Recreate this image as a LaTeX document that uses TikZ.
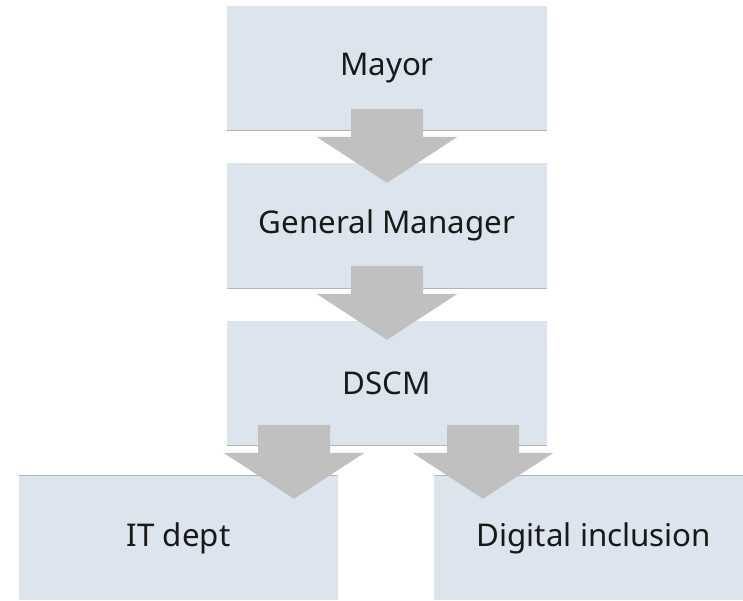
\documentclass[tikz,border=0pt]{standalone}
\usepackage{fontspec}
\setmainfont{Noto Sans}
\usetikzlibrary{calc}
\definecolor{boxfill}{HTML}{DCE5EE}
\definecolor{arrowgray}{HTML}{C0C0C0}
\definecolor{edgegray}{HTML}{B4B4B4}
\tikzset{
  orgbox/.style={rectangle, fill=boxfill, draw=none, minimum width=320pt, inner sep=0pt,
    font=\fontsize{31.3}{36}\selectfont, text=black!90},
  blockarrow/.pic={\fill[arrowgray] (-36,-74) -- (36,-74) -- (36,-46) -- (70.5,-46) -- (0,0) -- (-70.5,-46) -- (-36,-46) -- cycle;}
}
\begin{document}
\begin{tikzpicture}[x=1pt,y=-1pt]
\useasboundingbox (0,0) rectangle (743,600);
\begin{scope}
\clip (0,0) rectangle (743,600);
\node[orgbox, minimum height=124pt] (mayor) at (387,68) {Mayor};
\node[orgbox, minimum height=125pt] (gm) at (387,225.5) {General Manager};
\node[orgbox, minimum height=124pt] (dscm) at (387,383) {DSCM};
\node[orgbox, minimum width=319pt, minimum height=124pt] (it) at (178.5,538) {IT dept};
\node[orgbox, minimum height=124pt] (di) at (594,538) {Digital inclusion};
\draw[edgegray, line width=1pt] (mayor.south west) -- (mayor.south east);
\draw[edgegray, line width=1pt] (gm.south west) -- (gm.south east);
\draw[edgegray, line width=1pt] (dscm.south west) -- (dscm.south east);
\draw[edgegray, line width=1pt] (it.north west) -- (it.north east);
\draw[edgegray, line width=1pt] (di.north west) -- (di.north east);
\coordinate (a1) at ($(gm.north)+(0,20)$);
\coordinate (a2) at ($(dscm.north)+(0,19)$);
\coordinate (a3) at ($(it.north)+(115.5,23)$);
\coordinate (a4) at ($(di.north)+(-111,23)$);
\pic at (a1) {blockarrow};
\pic at (a2) {blockarrow};
\pic at (a3) {blockarrow};
\pic at (a4) {blockarrow};
\end{scope}
\end{tikzpicture}
\end{document}
